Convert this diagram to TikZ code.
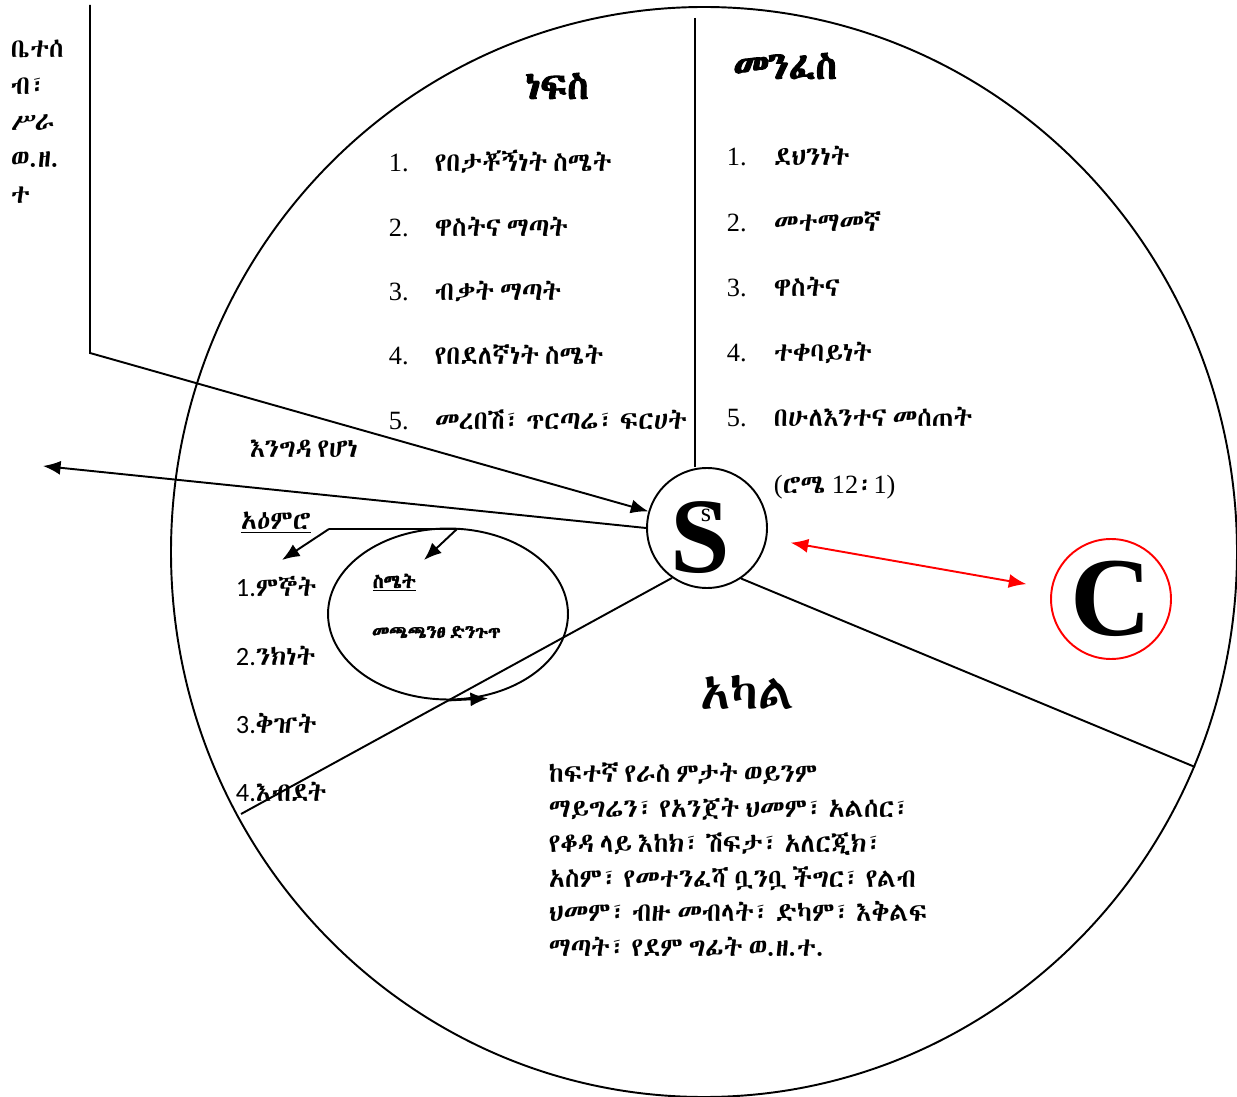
\documentclass[tikz,border=0pt]{standalone}
\usepackage{fontspec}
\setmainfont{Liberation Serif}
\newfontfamily\numsans{Carlito}
\IfFontExistsTF{Abyssinica SIL}{\def\amname{Abyssinica SIL}}{%
  \IfFontExistsTF{Noto Sans Ethiopic}{\def\amname{Noto Sans Ethiopic}}{%
    \IfFontExistsTF{FreeSerif}{\def\amname{FreeSerif}}{\def\amname{DejaVu Sans}}}}
\newfontfamily\amfont[WordSpace=0.5]{\amname}
\newfontfamily\ambold[FakeBold=2.5,WordSpace=0.5]{\amname}
\usetikzlibrary{arrows.meta,shapes.geometric}

\begin{document}
\begin{tikzpicture}[x=0.02cm,y=-0.02cm,line width=1.1pt,>={Latex[length=10pt,width=8pt]},
  am/.style={font=\amfont\fontsize{15}{19}\selectfont,inner sep=0pt},
  num/.style={font=\fontsize{15}{19}\selectfont,inner sep=0pt},
  head/.style={font=\ambold\fontsize{22}{26}\selectfont,inner sep=0pt}]
\useasboundingbox (0,0) rectangle (1237,1097);

% big circle
\draw (704,552) ellipse [x radius=533,y radius=545];

% S and C
\node (s) [draw,circle,minimum size=2.4cm,inner sep=0pt] at (707,528) {};
\node (sbig) at (700,538) {\fontsize{61}{61}\selectfont\bfseries S};
\node (ssmall) at (706,515) {\fontsize{15}{15}\selectfont s};
\node (c) [draw=red,circle,minimum size=2.4cm,inner sep=0pt] at (1111,599) {\fontsize{64}{64}\selectfont\bfseries C};
\draw[red,<->,shorten <=0.48cm,shorten >=0.5cm] (s) -- (c);

% lines out of S
\coordinate (top) at (695,18);
\draw (top) -- (top |- s.north);
\coordinate (fam) at (90,5);
\coordinate (famk) at (90,353);
\draw[->] (fam) -- (famk) -- (s);
\coordinate (away) at (43,466);
\draw[->] (s.west) -- (away);
\coordinate (lowl) at (241,814);
\coordinate (lowr) at (1195,767);
\draw (s.235) -- (lowl);
\draw (s.-56) -- (lowr);

% mind and feelings
\node (emo) [draw,ellipse,minimum width=4.8cm,minimum height=3.42cm,inner sep=0pt] at (448,614) {};
\draw[->] (emo.south) -- ++(40,-2);
\coordinate (tl) at (329,529);
\coordinate (tr) at (457,529);
\coordinate (tla) at (282,560);
\coordinate (tra) at (424,560);
\draw (tl) -- (tr);
\draw[->] (tl) -- (tla);
\draw[->] (tr) -- (tra);

% texts
\foreach \t [count=\i] in {ቤተሰ,ብ፣,ሥራ,ወ.ዘ.,ተ}
  \node[am,anchor=base west] (fam\i) at (10,58+36.5*\i-36.5) {\t};

\node[head] (nefs) at (557,86) {ነፍስ};
\foreach \t [count=\i] in {የበታቾኝነት ስሜት,ዋስትና ማጣት,ብቃት ማጣት,የበደለኛነት ስሜት,መረበሽ፣ ጥርጣሬ፣ ፍርሀት} {
  \node[num,anchor=base west] (nn\i) at (388,172+64.3*\i-64.3) {\i.};
  \node[am,anchor=base west] (nt\i) at (434,172+64.3*\i-64.3) {\t};
}

\node[head] (menf) at (785,66) {መንፈስ};
\foreach \t [count=\i] in {ደህንነት,መተማመኛ,ዋስትና,ተቀባይነት,በሁለእንተና መሰጠት} {
  \node[num,anchor=base west] (mn\i) at (726,166+65.2*\i-65.2) {\i.};
  \node[am,anchor=base west] (mt\i) at (773,166+65.2*\i-65.2) {\t};
}
\node[num,anchor=base west] (rom) at (773,494) {({\amfont ሮሜ} 12{\amfont ፡}1)};

\node[am,anchor=base west] (stran) at (249,458) {እንግዳ የሆነ};
\node[am,anchor=base west] (mind) at (240,530) {\underline{አዕምሮ}};
\foreach \t [count=\i] in {ምኞት,ንክነት,ቅዠት,እብደት}
  \node[am,anchor=base west] (m\i) at (235,597+68*\i-68) {{\numsans\i.}\t};

\node[am,anchor=base west,font=\ambold\fontsize{11}{13}\selectfont] (feel) at (372,588) {\underline{ስሜት}};
\node[am,anchor=base west,font=\ambold\fontsize{10.5}{12}\selectfont] (feel2) at (371,638) {መጫጫንፀ ድንጉጥ};

\node[am,font=\amfont\fontsize{28}{32}\selectfont] (body) at (748,692) {አካል};
\node[am,anchor=north west,align=left,font=\amfont\fontsize{15}{19.8}\selectfont] (bodytxt) at (548,762)
  {ከፍተኛ የራስ ምታት ወይንም\\
   ማይግሬን፣ የአንጀት ህመም፣ አልሰር፣\\
   የቆዳ ላይ እከክ፣ ሽፍታ፣ አለርጂክ፣\\
   አስም፣ የመተንፈሻ ቧንቧ ችግር፣ የልብ\\
   ህመም፣ ብዙ መብላት፣ ድካም፣ እቅልፍ\\
   ማጣት፣ የደም ግፊት ወ.ዘ.ተ.};
\end{tikzpicture}
\end{document}
